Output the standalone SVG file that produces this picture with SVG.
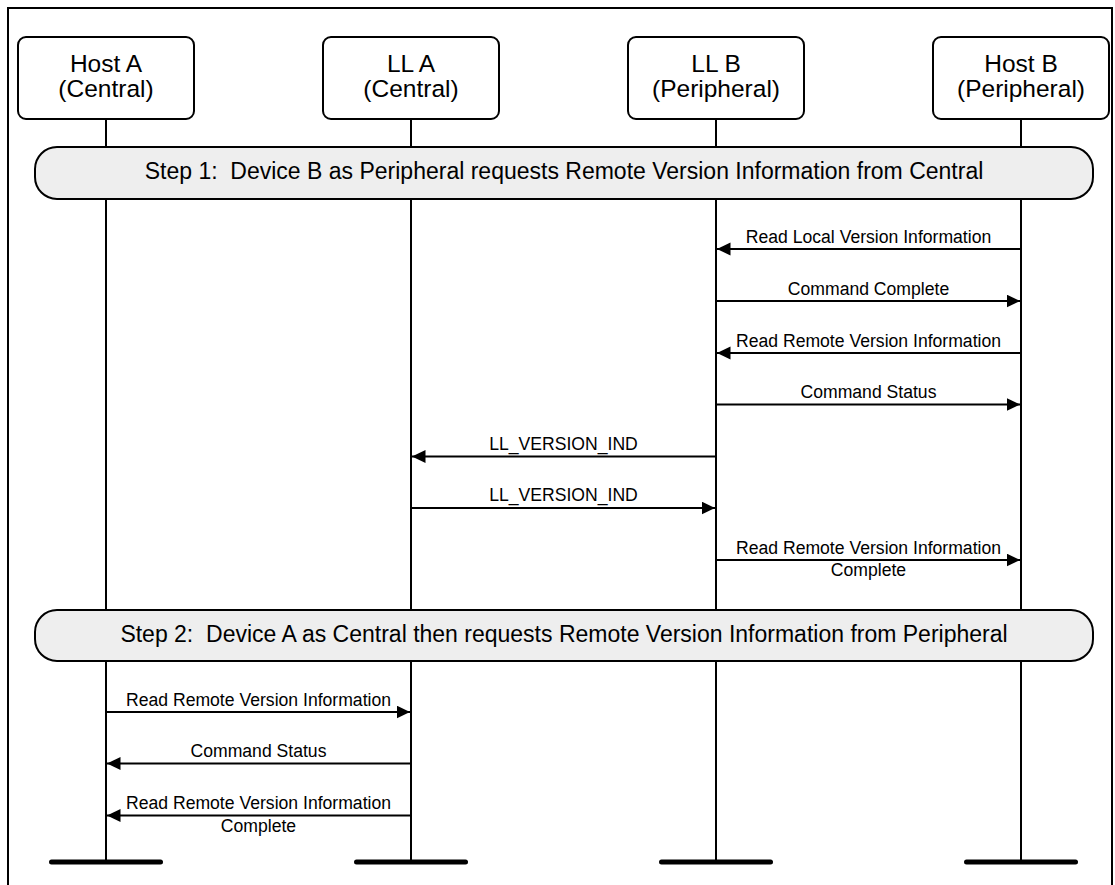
<svg xmlns="http://www.w3.org/2000/svg" width="1115" height="885" viewBox="0 0 1115 885">
  <style>
    text { font-family: "Liberation Sans", Arial, sans-serif; fill: #000; }
    .box { fill: #fff; stroke: #000; stroke-width: 2; }
    .life { stroke: #000; stroke-width: 2; fill: none; }
    .bar { stroke: #000; stroke-width: 5; stroke-linecap: round; }
    .node { font-size: 24.5px; text-anchor: middle; }
    .banner { fill: #eeeeee; stroke: #000; stroke-width: 2; }
    .btext { font-size: 23px; text-anchor: middle; white-space: pre; }
    .msg { stroke: #000; stroke-width: 2; fill: none; marker-end: url(#arr); }
    .lbl { font-size: 17.6px; text-anchor: middle; }
  </style>
  <defs>
    <marker id="arr" markerUnits="userSpaceOnUse" markerWidth="15" markerHeight="14" refX="13.5" refY="6.5" orient="auto">
      <path d="M0,0 L13.5,6.5 L0,13 z" fill="#000"/>
    </marker>
  </defs>
  <rect x="0" y="0" width="1115" height="885" fill="#fff"/>
  <path d="M8,890 V8 H1112 V890" fill="none" stroke="#000" stroke-width="2"/>

  <g id="hostA">
    <line class="life" x1="106" y1="119" x2="106" y2="862"/>
    <line class="bar" x1="51.5" y1="862" x2="160.5" y2="862"/>
    <rect class="box" x="18" y="37" width="176" height="82" rx="8"/>
    <text class="node" x="106" y="71.5">Host A</text>
    <text class="node" x="106" y="97">(Central)</text>
  </g>
  <g id="llA">
    <line class="life" x1="411" y1="119" x2="411" y2="862"/>
    <line class="bar" x1="356.5" y1="862" x2="465.5" y2="862"/>
    <rect class="box" x="323" y="37" width="176" height="82" rx="8"/>
    <text class="node" x="411" y="71.5">LL A</text>
    <text class="node" x="411" y="97">(Central)</text>
  </g>
  <g id="llB">
    <line class="life" x1="716" y1="119" x2="716" y2="862"/>
    <line class="bar" x1="661.5" y1="862" x2="770.5" y2="862"/>
    <rect class="box" x="628" y="37" width="176" height="82" rx="8"/>
    <text class="node" x="716" y="71.5">LL B</text>
    <text class="node" x="716" y="97">(Peripheral)</text>
  </g>
  <g id="hostB">
    <line class="life" x1="1021" y1="119" x2="1021" y2="862"/>
    <line class="bar" x1="966.5" y1="862" x2="1075.5" y2="862"/>
    <rect class="box" x="933" y="37" width="176" height="82" rx="8"/>
    <text class="node" x="1021" y="71.5">Host B</text>
    <text class="node" x="1021" y="97">(Peripheral)</text>
  </g>

  <g id="step1">
    <rect class="banner" x="35" y="147" width="1058" height="52" rx="22"/>
    <text class="btext" x="564" y="178.5">Step 1:  Device B as Peripheral requests Remote Version Information from Central</text>
  </g>
  <g id="step2">
    <rect class="banner" x="35" y="610" width="1058" height="51" rx="22"/>
    <text class="btext" x="564" y="641.5">Step 2:  Device A as Central then requests Remote Version Information from Peripheral</text>
  </g>

  <g id="connectors">
    <line class="msg" x1="1021" y1="249" x2="717" y2="249"/>
    <text class="lbl" x="868.5" y="243">Read Local Version Information</text>

    <line class="msg" x1="716" y1="301" x2="1020" y2="301"/>
    <text class="lbl" x="868.5" y="295">Command Complete</text>

    <line class="msg" x1="1021" y1="353" x2="717" y2="353"/>
    <text class="lbl" x="868.5" y="347">Read Remote Version Information</text>

    <line class="msg" x1="716" y1="404.5" x2="1020" y2="404.5"/>
    <text class="lbl" x="868.5" y="398">Command Status</text>

    <line class="msg" x1="716" y1="456.5" x2="412" y2="456.5"/>
    <text class="lbl" x="563.5" y="449.5">LL_VERSION_IND</text>

    <line class="msg" x1="411" y1="508" x2="715" y2="508"/>
    <text class="lbl" x="563.5" y="501">LL_VERSION_IND</text>

    <line class="msg" x1="716" y1="560" x2="1020" y2="560"/>
    <text class="lbl" x="868.5" y="553.5">Read Remote Version Information</text>
    <text class="lbl" x="868.5" y="576">Complete</text>

    <line class="msg" x1="106" y1="712" x2="410" y2="712"/>
    <text class="lbl" x="258.5" y="706">Read Remote Version Information</text>

    <line class="msg" x1="411" y1="763.5" x2="107" y2="763.5"/>
    <text class="lbl" x="258.5" y="757">Command Status</text>

    <line class="msg" x1="411" y1="815.5" x2="107" y2="815.5"/>
    <text class="lbl" x="258.5" y="808.5">Read Remote Version Information</text>
    <text class="lbl" x="258.5" y="831.5">Complete</text>
  </g>
</svg>
